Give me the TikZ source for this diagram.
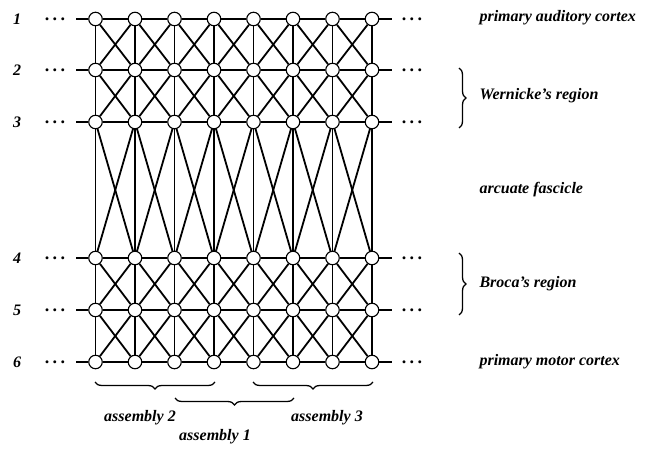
\documentclass[tikz,border=0pt]{standalone}
\usepackage{fontspec}
\setmainfont{Liberation Serif}
\usetikzlibrary{decorations.pathreplacing}
\tikzstyle{unit} = [
  draw,
  circle,
  fill=white,
  inner sep=0pt,
  minimum size=13.5pt,
  line width=1.1pt,
]
\tikzstyle{link} = [
  line width=1.8pt,
]
\tikzstyle{areatext} = [
  font=\bfseries\itshape\fontsize{16}{18}\selectfont,
]
\tikzstyle{dots} = [
  inner sep=0pt,
  font=\bfseries\fontsize{18}{18}\selectfont,
]
\tikzstyle{bracket} = [
  decorate,
  decoration={brace, amplitude=7pt},
  line width=1.3pt,
]

\begin{document}
\begin{tikzpicture}[
    x=1pt,
    y=-1pt,
  ]
  \useasboundingbox (0,0) rectangle (651,449);
  \foreach \y [count=\r] in {19,70,122,258,310,362} {
    \foreach \c in {1,...,8}
      \node[unit] (n-\r-\c) at ({56+39.5*\c},\y) {};
    \coordinate (w-\r) at (76,\y);
    \coordinate (e-\r) at (392,\y);
    \node[dots] (ld-\r) at (55,\y) {.\hspace{3.5pt}.\hspace{3.5pt}.};
    \node[dots] (rd-\r) at (412,\y) {.\hspace{3.5pt}.\hspace{3.5pt}.};
    \node[areatext] (num-\r) at (17,\y) {\r};
  }
  \foreach \r in {1,...,6} {
    \draw[link] (w-\r) -- (n-\r-1);
    \draw[link] (n-\r-8) -- (e-\r);
    \foreach \c [evaluate=\c as \d using int(\c+1)] in {1,...,7}
      \draw[link] (n-\r-\c) -- (n-\r-\d);
  }
  \foreach \r [evaluate=\r as \s using int(\r+1)] in {1,...,5} {
    \foreach \c in {1,...,8}
      \draw[link] (n-\r-\c) -- (n-\s-\c);
    \foreach \c [evaluate=\c as \d using int(\c+1)] in {1,...,7} {
      \draw[link] (n-\r-\c) -- (n-\s-\d);
      \draw[link] (n-\r-\d) -- (n-\s-\c);
    }
  }
  \node[areatext, anchor=west] (auditory) at (476,18) {primary auditory cortex};
  \node[areatext, anchor=west] (wernicke) at (476,96) {Wernicke's region};
  \node[areatext, anchor=west] (arcuate) at (476,190) {arcuate fascicle};
  \node[areatext, anchor=west] (broca) at (476,284) {Broca's region};
  \node[areatext, anchor=west] (motor) at (476,362) {primary motor cortex};
  \coordinate (wtop) at (459,68);
  \coordinate (wbot) at (459,128);
  \coordinate (btop) at (459,253);
  \coordinate (bbot) at (459,315);
  \draw[bracket] (wtop) -- (wbot);
  \draw[bracket] (btop) -- (bbot);
  \coordinate (a2l) at (95,382);
  \coordinate (a2r) at (215,382);
  \coordinate (a1l) at (175,398);
  \coordinate (a1r) at (294,398);
  \coordinate (a3l) at (253,382);
  \coordinate (a3r) at (373,382);
  \draw[bracket] (a2r) -- (a2l);
  \draw[bracket] (a1r) -- (a1l);
  \draw[bracket] (a3r) -- (a3l);
  \node[areatext] (asm2) at (140,418) {assembly 2};
  \node[areatext] (asm1) at (215,437) {assembly 1};
  \node[areatext] (asm3) at (327,418) {assembly 3};
\end{tikzpicture}
\end{document}
